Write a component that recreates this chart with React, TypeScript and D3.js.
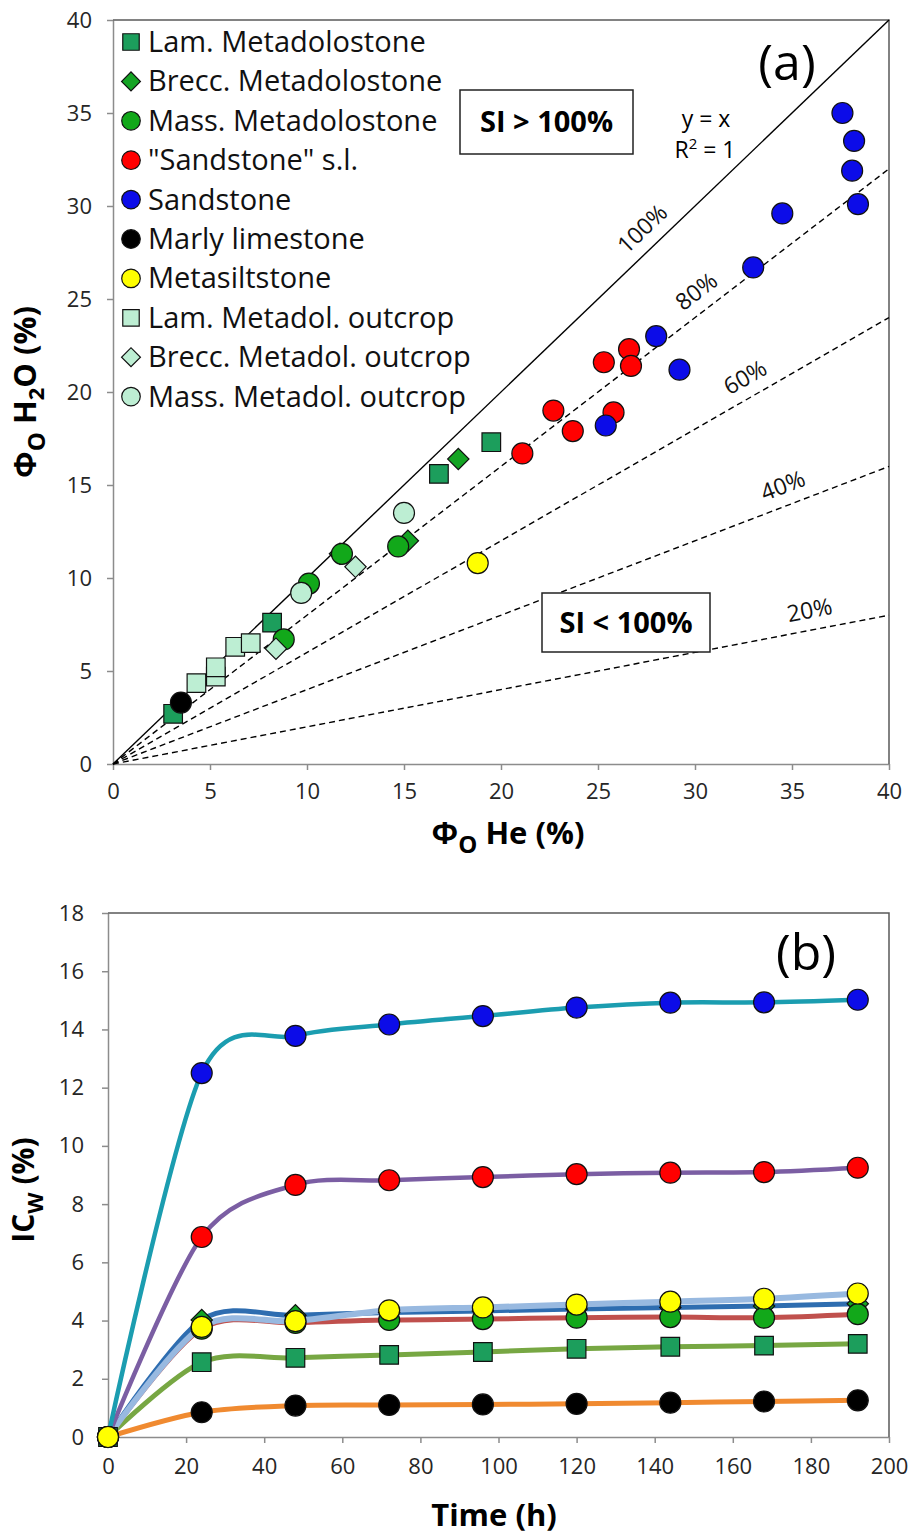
import React, { useEffect, useRef } from "react";
import * as d3 from "d3";

// ---------- panel (a): open porosity He vs open porosity H2O ----------
const lamMetaX = [3.1, 8.2, 16.8, 19.5];
const lamMetaY = [2.7, 7.6, 15.6, 17.3];
const brecMetaX = [11.7, 15.2, 17.8];
const brecMetaY = [11.3, 12.0, 16.4];
const massMetaX = [8.8, 10.1, 11.8, 14.7];
const massMetaY = [6.7, 9.7, 11.3, 11.7];
const sandSlX = [21.1, 22.7, 23.7, 25.3, 25.8, 26.6, 26.7];
const sandSlY = [16.7, 19.0, 17.9, 21.6, 18.9, 22.3, 21.4];
const sandX = [25.4, 28.0, 29.2, 33.0, 34.5, 37.6, 38.2, 38.1, 38.4];
const sandY = [18.2, 23.0, 21.2, 26.7, 29.6, 35.0, 33.5, 31.9, 30.1];
const marlyX = [3.5];
const marlyY = [3.3];
const siltX = [18.8];
const siltY = [10.8];
const lamOutX = [4.3, 5.3, 5.3, 6.3, 7.1];
const lamOutY = [4.35, 4.7, 5.2, 6.3, 6.5];
const brecOutX = [8.4, 12.5];
const brecOutY = [6.2, 10.6];
const massOutX = [9.7, 15.0];
const massOutY = [9.2, 13.5];

const legendNames = [
  "Lam. Metadolostone",
  "Brecc. Metadolostone",
  "Mass. Metadolostone",
  '"Sandstone" s.l.',
  "Sandstone",
  "Marly limestone",
  "Metasiltstone",
  "Lam. Metadol. outcrop",
  "Brecc. Metadol. outcrop",
  "Mass. Metadol. outcrop",
];

// saturation index reference lines (y = r * x)
const ratios = [1, 0.8, 0.6, 0.4, 0.2];
const ratioLabels = ["100%", "80%", "60%", "40%", "20%"];
const ratioLabelAt = [28.0, 30.7, 33.1, 34.9, 36.1]; // x value where label sits
const ticksA = [0, 5, 10, 15, 20, 25, 30, 35, 40];

// ---------- panel (b): water imbibition over time ----------
const hours = [0, 24, 48, 72, 96, 120, 144, 168, 192];
const icLam = [0, 2.57, 2.72, 2.82, 2.92, 3.03, 3.1, 3.14, 3.2];
const icBrec = [0, 4.02, 4.18, 4.28, 4.33, 4.4, 4.45, 4.5, 4.58];
const icMass = [0, 3.72, 3.92, 4.02, 4.05, 4.1, 4.12, 4.1, 4.22];
const icSandSl = [0, 6.87, 8.66, 8.82, 8.93, 9.03, 9.08, 9.1, 9.25];
const icSand = [0, 12.5, 13.78, 14.17, 14.46, 14.75, 14.92, 14.93, 15.02];
const icMarly = [0, 0.85, 1.08, 1.1, 1.12, 1.14, 1.18, 1.22, 1.26];
const icSilt = [0, 3.78, 3.98, 4.35, 4.45, 4.55, 4.65, 4.75, 4.93];
const ticksBx = [0, 20, 40, 60, 80, 100, 120, 140, 160, 180, 200];
const ticksBy = [0, 2, 4, 6, 8, 10, 12, 14, 16, 18];

const FONT = "'Open Sans', 'Noto Sans', sans-serif";
const AXIS_GREY = "#8c8c8c";
const FRAME = "#595959";

// marker paths
const markerPath = (shape, big = true) => {
  const k = big ? 1.04 : 0.92;
  if (shape === "square") return d3.symbol(d3.symbolSquare, 320 * k * k)();
  if (shape === "diamond") return d3.symbol(d3.symbolSquare, 210 * k * k)();
  return d3.symbol(d3.symbolCircle, 320 * k * k)();
};

const styleAxis = (g) => {
  g.select(".domain").attr("stroke", AXIS_GREY).attr("stroke-width", 1.5);
  g.selectAll(".tick line").attr("stroke", AXIS_GREY).attr("stroke-width", 1.5);
  g.selectAll(".tick text")
    .attr("fill", "#262626")
    .style("font-size", "22px")
    .style("font-family", FONT);
};

const drawMarker = (g, shape, x, y, fill, big = true) => {
  g.append("path")
    .attr("d", markerPath(shape, big))
    .attr(
      "transform",
      `translate(${x},${y})` + (shape === "diamond" ? " rotate(45)" : "")
    )
    .attr("fill", fill)
    .attr("stroke", "#111")
    .attr("stroke-width", 1.2);
};

const drawScatter = (svg) => {
  const x = d3.scaleLinear().domain([0, 40]).range([113, 889]);
  const y = d3.scaleLinear().domain([0, 40]).range([764, 20]);
  const g = svg.append("g");

  const series = [
    { xs: lamMetaX, ys: lamMetaY, shape: "square", fill: "#1c9e5c" },
    { xs: brecMetaX, ys: brecMetaY, shape: "diamond", fill: "#14a424" },
    { xs: massMetaX, ys: massMetaY, shape: "circle", fill: "#12a81a" },
    { xs: sandSlX, ys: sandSlY, shape: "circle", fill: "#ff0000" },
    { xs: sandX, ys: sandY, shape: "circle", fill: "#0c0ce8" },
    { xs: marlyX, ys: marlyY, shape: "circle", fill: "#000000" },
    { xs: siltX, ys: siltY, shape: "circle", fill: "#ffff00" },
    { xs: lamOutX, ys: lamOutY, shape: "square", fill: "#bdeed3" },
    { xs: brecOutX, ys: brecOutY, shape: "diamond", fill: "#bdeed3" },
    { xs: massOutX, ys: massOutY, shape: "circle", fill: "#bdeed3" },
  ];

  // axes
  g.append("g")
    .attr("transform", "translate(0,764)")
    .call(d3.axisBottom(x).tickValues(ticksA).tickSize(6).tickSizeOuter(0).tickPadding(13))
    .call(styleAxis);
  g.append("g")
    .attr("transform", "translate(113,0)")
    .call(d3.axisLeft(y).tickValues(ticksA).tickSize(6).tickSizeOuter(0).tickPadding(15))
    .call(styleAxis);
  // plot frame (top + right)
  g.append("path")
    .attr("d", `M${x(0)},${y(40)}H${x(40)}V${y(0)}`)
    .attr("fill", "none")
    .attr("stroke", FRAME)
    .attr("stroke-width", 1.5);

  // reference lines
  ratios.forEach((r, i) => {
    g.append("line")
      .attr("x1", x(0))
      .attr("y1", y(0))
      .attr("x2", x(40))
      .attr("y2", y(40 * r))
      .attr("stroke", "#000")
      .attr("stroke-width", 1.4)
      .attr("stroke-dasharray", r === 1 ? null : "6,4");
    const lx = ratioLabelAt[i];
    const ang =
      (Math.atan2(y(0) - y(40 * r), x(40) - x(0)) * 180) / Math.PI;
    g.append("text")
      .attr("transform", `translate(${x(lx)},${y(lx * r)}) rotate(${-ang})`)
      .attr("y", -12)
      .attr("text-anchor", "middle")
      .style("font-family", FONT)
      .style("font-size", "23px")
      .attr("fill", "#111")
      .text(ratioLabels[i]);
  });

  // y = x annotation
  g.append("text")
    .attr("x", 706)
    .attr("y", 127)
    .attr("text-anchor", "middle")
    .style("font-family", FONT)
    .style("font-size", "23px")
    .text("y = x");
  const r2 = g
    .append("text")
    .attr("x", 705)
    .attr("y", 158)
    .attr("text-anchor", "middle")
    .style("font-family", FONT)
    .style("font-size", "23px");
  r2.append("tspan").text("R");
  r2.append("tspan").attr("dy", -9).style("font-size", "15px").text("2");
  r2.append("tspan").attr("dy", 9).text(" = 1");

  // SI boxes
  const siBox = (x0, y0, w, h, label) => {
    g.append("rect")
      .attr("x", x0)
      .attr("y", y0)
      .attr("width", w)
      .attr("height", h)
      .attr("fill", "#fff")
      .attr("stroke", "#222")
      .attr("stroke-width", 1.5);
    g.append("text")
      .attr("x", x0 + w / 2)
      .attr("y", y0 + h / 2 + 10)
      .attr("text-anchor", "middle")
      .style("font-family", FONT)
      .style("font-size", "29px")
      .style("font-weight", 700)
      .text(label);
  };
  siBox(460, 90, 173, 64, "SI > 100%");
  siBox(542, 593, 168, 59, "SI < 100%");

  // points
  series.forEach((s) => {
    s.xs.forEach((v, j) => drawMarker(g, s.shape, x(v), y(s.ys[j]), s.fill));
  });

  // legend
  series.forEach((s, i) => {
    const ly = 42 + i * 39.4;
    drawMarker(g, s.shape, 131, ly, s.fill, false);
    g.append("text")
      .attr("x", 148)
      .attr("y", ly + 10)
      .style("font-family", FONT)
      .style("font-size", "29px")
      .attr("fill", "#111")
      .text(legendNames[i]);
  });

  g.append("text")
    .attr("x", 787)
    .attr("y", 80)
    .attr("text-anchor", "middle")
    .style("font-family", FONT)
    .style("font-size", "50px")
    .text("(a)");

  // axis titles
  const xt = g
    .append("text")
    .attr("x", 508)
    .attr("y", 844)
    .attr("text-anchor", "middle")
    .style("font-family", FONT)
    .style("font-size", "31px")
    .style("font-weight", 700);
  xt.append("tspan").text("Φ");
  xt.append("tspan").attr("dy", 9).style("font-size", "24px").text("O");
  xt.append("tspan").attr("dy", -9).text(" He (%)");

  const yt = g
    .append("text")
    .attr("transform", "translate(36,392) rotate(-90)")
    .attr("text-anchor", "middle")
    .style("font-family", FONT)
    .style("font-size", "31px")
    .style("font-weight", 700);
  yt.append("tspan").text("Φ");
  yt.append("tspan").attr("dy", 9).style("font-size", "24px").text("O");
  yt.append("tspan").attr("dy", -9).text(" H");
  yt.append("tspan").attr("dy", 8).style("font-size", "22px").text("2");
  yt.append("tspan").attr("dy", -8).text("O (%)");
};

const drawTimeSeries = (svg) => {
  const x = d3.scaleLinear().domain([0, 200]).range([108, 889]);
  const y = d3.scaleLinear().domain([0, 18]).range([1437, 913]);
  const g = svg.append("g");

  const series = [
    { ys: icMarly, line: "#f08a30", width: 5, shape: "circle", fill: "#000000" },
    { ys: icLam, line: "#77a743", width: 5, shape: "square", fill: "#1c9e5c" },
    { ys: icMass, line: "#c0504d", width: 5, shape: "circle", fill: "#12a81a" },
    { ys: icBrec, line: "#2e6db0", width: 5, shape: "diamond", fill: "#14a424" },
    { ys: icSilt, line: "#98b9e0", width: 6, shape: "circle", fill: "#ffff00" },
    { ys: icSandSl, line: "#7b5ea3", width: 4.5, shape: "circle", fill: "#ff0000" },
    { ys: icSand, line: "#1b9db0", width: 4.5, shape: "circle", fill: "#0c0ce8" },
  ];
  const markerOrder = [0, 1, 3, 2, 5, 6, 4];

  g.append("g")
    .attr("transform", "translate(0,1437)")
    .call(d3.axisBottom(x).tickValues(ticksBx).tickSize(6).tickSizeOuter(0).tickPadding(15))
    .call(styleAxis);
  g.append("g")
    .attr("transform", "translate(108,0)")
    .call(d3.axisLeft(y).tickValues(ticksBy).tickSize(6).tickSizeOuter(0).tickPadding(18))
    .call(styleAxis);
  g.append("path")
    .attr("d", `M${x(0)},${y(18)}H${x(200)}V${y(0)}`)
    .attr("fill", "none")
    .attr("stroke", FRAME)
    .attr("stroke-width", 1.5);

  const line = d3
    .line()
    .x((d) => x(d[0]))
    .y((d) => y(d[1]))
    .curve(d3.curveCardinal.tension(0.1));

  series.forEach((s) => {
    g.append("path")
      .attr("d", line(hours.map((h, j) => [h, s.ys[j]])))
      .attr("fill", "none")
      .attr("stroke", s.line)
      .attr("stroke-width", s.width)
      .attr("stroke-linejoin", "round");
  });

  markerOrder.forEach((k) => {
    const s = series[k];
    hours.forEach((h, j) => drawMarker(g, s.shape, x(h), y(s.ys[j]), s.fill));
  });

  g.append("text")
    .attr("x", 806)
    .attr("y", 970)
    .attr("text-anchor", "middle")
    .style("font-family", FONT)
    .style("font-size", "50px")
    .text("(b)");

  g.append("text")
    .attr("x", 494)
    .attr("y", 1526)
    .attr("text-anchor", "middle")
    .style("font-family", FONT)
    .style("font-size", "31px")
    .style("font-weight", 700)
    .text("Time (h)");

  const yt = g
    .append("text")
    .attr("transform", "translate(34,1190) rotate(-90)")
    .attr("text-anchor", "middle")
    .style("font-family", FONT)
    .style("font-size", "30px")
    .style("font-weight", 700);
  yt.append("tspan").text("IC");
  yt.append("tspan").attr("dy", 9).style("font-size", "22px").text("W");
  yt.append("tspan").attr("dy", -9).text(" (%)");
};

const App = () => {
  //Ref del svg completo
  const svgRef = useRef(null);

  useEffect(() => {
    if (!svgRef.current) return;
    const svg = d3.select(svgRef.current);
    svg.selectAll("*").remove();
    drawScatter(svg);
    drawTimeSeries(svg);
  }, []);

  return (
    <svg
      ref={svgRef}
      width={910}
      height={1540}
      style={{ position: "absolute", left: 0, top: 0, background: "#fff" }}
    />
  );
};

export default App;
